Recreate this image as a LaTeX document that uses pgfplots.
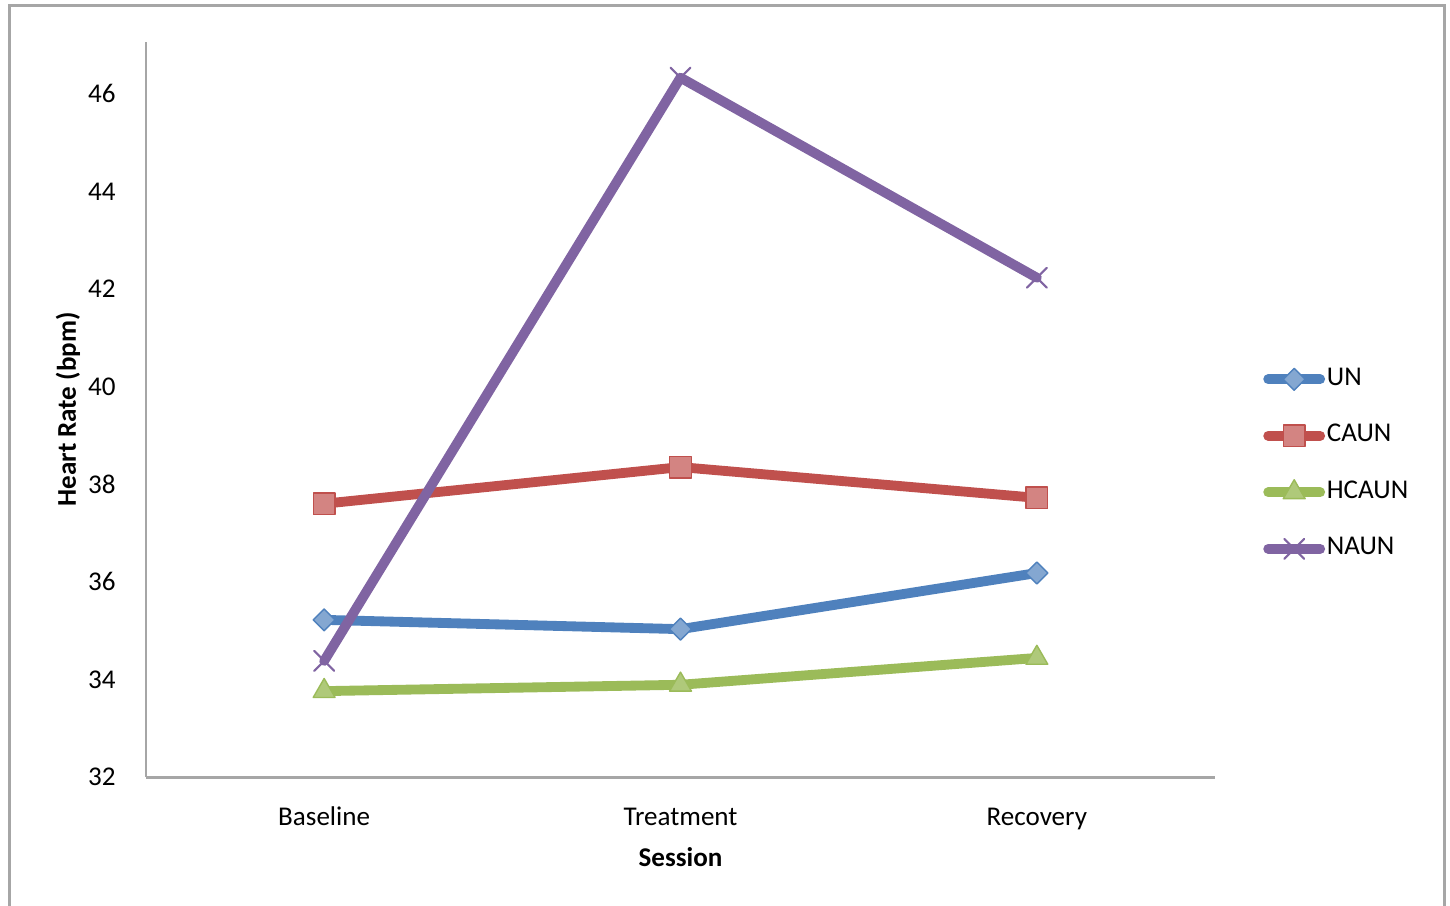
\documentclass[border=0pt]{standalone}
\usepackage{fontspec}
\setmainfont{Carlito}
\usepackage{pgfplots}
\pgfplotsset{compat=1.18}
\definecolor{cUN}{HTML}{4F81BD}
\definecolor{cCA}{HTML}{C0504D}
\definecolor{cHC}{HTML}{9BBB59}
\definecolor{cNA}{HTML}{8064A2}
\definecolor{frame}{HTML}{A6A6A6}
\begin{document}
\begin{tikzpicture}[font=\fontsize{7.7pt}{9pt}\selectfont]
\path[use as bounding box] (0,0) rectangle (145mm,90.5mm);
\draw[frame, line width=0.3mm] (0.9mm,-1mm) -- (0.9mm,90mm) -- (144.4mm,90mm) -- (144.4mm,-1mm);
\begin{axis}[
  at={(14.6mm,12.8mm)}, anchor=south west,
  width=106.9mm, height=73.5mm, scale only axis,
  xmin=-0.5, xmax=2.5, ymin=32, ymax=47.06,
  axis x line*=bottom, axis y line*=left,
  axis line style={draw=frame, line width=0.85pt, -},
  xtick={0,1,2}, xticklabels={Baseline,Treatment,Recovery},
  ytick={32,34,...,46},
  major tick length=0pt,
  /pgf/number format/assume math mode=true,
  tick label style={font=\fontsize{7.7pt}{9pt}\selectfont},
  yticklabel style={xshift=-1.8mm},
  xticklabel style={yshift=-1.1mm, text height=0.7em, text depth=0.2em},
  xlabel={\bfseries Session},
  ylabel={\bfseries Heart Rate (bpm)},
  xlabel style={at={(axis description cs:0.5,-0.1088)}, anchor=center},
  ylabel style={at={(axis description cs:-0.073,0.5)}, anchor=center, rotate=0},
  label style={font=\fontsize{7.7pt}{9pt}\selectfont},
  legend style={at={(axis description cs:1.0445,0.567)}, anchor=north west,
    draw=none, fill=none, inner sep=0pt, row sep=5.6pt,
    font=\fontsize{7.7pt}{9pt}\selectfont,
    nodes={inner xsep=0.5pt},
    /tikz/every odd column/.append style={column sep=0pt}},
  legend image code/.code={\draw[mark repeat=2,mark phase=2,#1] plot coordinates {(0mm,0mm) (2.6mm,0mm) (5.2mm,0mm)};},
  legend cell align=left,
  every axis plot/.append style={line width=2.8pt, line cap=round, line join=round},
  clip=false,
]
\addplot[cUN, mark=square*, mark size=2.2pt, mark options={rotate=45, fill=cUN!70!white, draw=cUN, line width=0.4pt}]
  coordinates {(0,35.22) (1,35.03) (2,36.18)};
\addlegendentry{UN}
\addplot[cCA, mark=square*, mark size=3.1pt, mark options={fill=cCA!70!white, draw=cCA, line width=0.4pt}]
  coordinates {(0,37.60) (1,38.35) (2,37.72)};
\addlegendentry{CAUN}
\addplot[cHC, mark=triangle*, mark size=3.6pt, mark options={fill=cHC!80!white, draw=cHC, line width=0.4pt}]
  coordinates {(0,33.76) (1,33.89) (2,34.44)};
\addlegendentry{HCAUN}
\addplot[cNA, mark=x, mark size=4pt, mark options={draw=cNA, line width=0.6pt}]
  coordinates {(0,34.38) (1,46.33) (2,42.23)};
\addlegendentry{NAUN}
\end{axis}
\end{tikzpicture}
\end{document}
